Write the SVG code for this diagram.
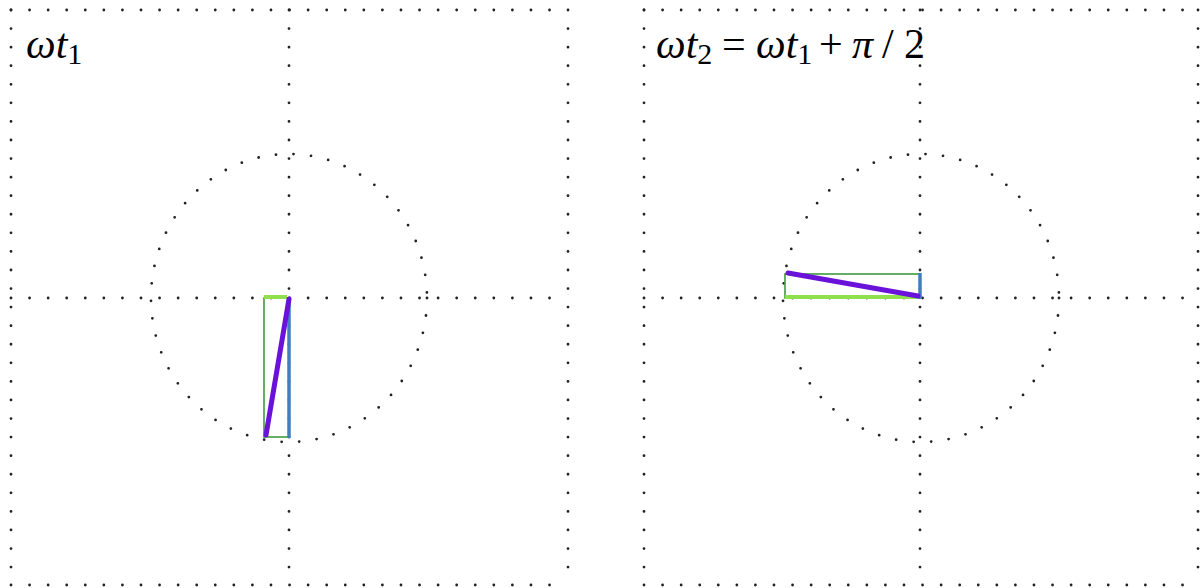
<svg xmlns="http://www.w3.org/2000/svg" width="1200" height="588" viewBox="0 0 1200 588">
<style>
.dot{stroke:#222;stroke-width:2.8;stroke-linecap:round;fill:none;stroke-dasharray:0 18.57}
.circ{stroke:#222;stroke-width:2.8;stroke-linecap:round;fill:none;stroke-dasharray:0 17.6}
.thin{stroke:#3f9a3f;stroke-width:1.6;fill:none}
.lg{stroke:#8fe04c;stroke-width:4;stroke-linecap:butt}
.bl{stroke:#3f7fc0;stroke-width:3.5}
.pu{stroke:#6a12d9;stroke-width:5;stroke-linecap:round}
</style>
<rect width="1200" height="588" fill="#fff"/>
<g id="panel-left">
  <g id="frame-left">
    <line class="dot" x1="11" y1="10" x2="568" y2="10"/>
    <line class="dot" x1="11" y1="585" x2="568" y2="585"/>
    <line class="dot" x1="11" y1="10" x2="11" y2="585"/>
    <line class="dot" x1="568" y1="10" x2="568" y2="585"/>
    <line class="dot" x1="11" y1="298" x2="568" y2="298"/>
    <line class="dot" x1="289" y1="10" x2="289" y2="585"/>
  </g>
  <ellipse class="circ" cx="289" cy="298" rx="138" ry="144"/>
  <g id="vectors-left">
    <rect class="thin" x="264" y="298" width="25" height="139"/>
    <line class="lg" x1="264" y1="297" x2="287" y2="297"/>
    <line class="bl" x1="289" y1="298" x2="289" y2="438"/>
    <line class="pu" x1="289" y1="299" x2="266" y2="435"/>
  </g>
  <text font-family="Liberation Serif, Times New Roman, DejaVu Serif, serif" font-size="42" fill="#000" x="26" y="58"><tspan font-style="italic">ωt</tspan><tspan font-size="30" dy="6">1</tspan></text>
</g>
<g id="panel-right">
  <g id="frame-right">
    <line class="dot" x1="644" y1="10" x2="1198" y2="10"/>
    <line class="dot" x1="644" y1="585" x2="1198" y2="585"/>
    <line class="dot" x1="644" y1="10" x2="644" y2="585"/>
    <line class="dot" x1="1198" y1="10" x2="1198" y2="585"/>
    <line class="dot" x1="644" y1="298" x2="1198" y2="298"/>
    <line class="dot" x1="920" y1="10" x2="920" y2="585"/>
  </g>
  <ellipse class="circ" cx="921" cy="298" rx="138" ry="144"/>
  <g id="vectors-right">
    <rect class="thin" x="785" y="274" width="135" height="24"/>
    <line class="lg" x1="785" y1="297" x2="918" y2="297"/>
    <line class="bl" x1="920" y1="273" x2="920" y2="299"/>
    <line class="pu" x1="788" y1="273" x2="918" y2="296"/>
  </g>
  <text font-family="Liberation Serif, Times New Roman, DejaVu Serif, serif" font-size="42" fill="#000" x="656" y="58"><tspan font-style="italic">ωt</tspan><tspan font-size="30" dy="6">2</tspan><tspan dy="-6" x="722">=</tspan><tspan font-style="italic" x="756">ωt</tspan><tspan font-size="30" dy="6">1</tspan><tspan dy="-6" x="819">+</tspan><tspan font-style="italic" x="852">π</tspan><tspan x="882">/</tspan><tspan x="904">2</tspan></text>
</g>
</svg>
